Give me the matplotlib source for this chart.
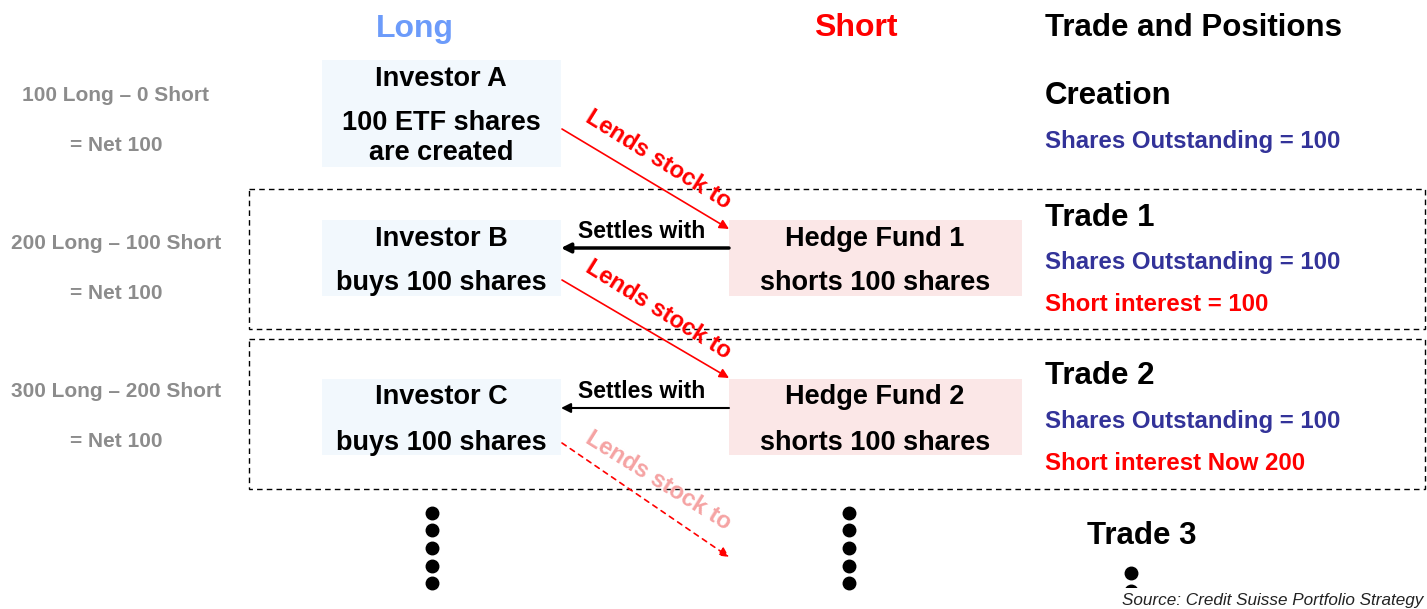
import matplotlib
matplotlib.use("Agg")
import matplotlib.pyplot as plt
from matplotlib.patches import Rectangle, FancyArrowPatch

plt.rcParams['font.family'] = ['Liberation Sans', 'DejaVu Sans']

# ---- content ----
headers = ["Long", "Short", "Trade and Positions"]
left_positions = ["100 Long – 0 Short", "200 Long – 100 Short", "300 Long – 200 Short"]
left_net = ["= Net 100", "= Net 100", "= Net 100"]
investor_titles = ["Investor A", "Investor B", "Investor C"]
investor_subs = [["100 ETF shares", "are created"], ["buys 100 shares"], ["buys 100 shares"]]
fund_titles = ["Hedge Fund 1", "Hedge Fund 2"]
fund_subs = ["shorts 100 shares", "shorts 100 shares"]
trade_titles = ["Creation", "Trade 1", "Trade 2", "Trade 3"]
shares_outstanding = ["Shares Outstanding = 100", "Shares Outstanding = 100", "Shares Outstanding = 100"]
short_interest = ["Short interest = 100", "Short interest Now 200"]
lend_label = "Lends stock to"
settle_label = "Settles with"
source = "Source: Credit Suisse Portfolio Strategy"

W, H = 1427, 609
fig = plt.figure(figsize=(W / 100, H / 100), dpi=100)
ax = fig.add_axes([0, 0, 1, 1])
ax.set_xlim(0, W)
ax.set_ylim(H, 0)
ax.axis('off')

BLUE_BOX = '#F2F8FD'
PINK_BOX = '#FBE7E7'
NAVY = '#333399'
GREY = '#8C8C8C'
DY = 2.5  # vertical text offset


def txt(x, y, s, **kw):
    kw.setdefault('fontweight', 'bold')
    kw.setdefault('va', 'center')
    return ax.text(x, y + DY, s, **kw)


# headers
txt(415, 26, headers[0], color='#6C9BFA', fontsize=23, ha='center')
txt(856, 26, headers[1], color='#FF0000', fontsize=23, ha='center')
txt(1045, 26, headers[2], color='black', fontsize=22.5, ha='left')

# left grey texts
row_y = [93, 241, 389]
for y, t1, t2 in zip(row_y, left_positions, left_net):
    txt(116, y, t1, color=GREY, fontsize=15, ha='center')
    txt(116, y + 50, t2, color=GREY, fontsize=15, ha='center')

# dashed frames
for (y0, y1) in [(189, 329), (339, 489)]:
    ax.add_patch(Rectangle((249, y0), 1425 - 249, y1 - y0, fill=False, ec='black',
                           lw=1.0, ls=(0, (4, 3))))

# investor boxes
inv_boxes = [(60, 167), (220, 296), (379, 455)]
inv_sub_y = [[121, 151], [281], [440]]
for (y0, y1), t, subs, ys in zip(inv_boxes, investor_titles, investor_subs, inv_sub_y):
    ax.add_patch(Rectangle((322, y0), 561 - 322, y1 - y0, fc=BLUE_BOX, ec='none'))
    txt(441, y0 + 16, t, fontsize=19.5, ha='center')
    for y, s in zip(ys, subs):
        txt(441, y, s, fontsize=19.5, ha='center')

# hedge fund boxes
fund_boxes = [(220, 296), (379, 455)]
for (y0, y1), t, s in zip(fund_boxes, fund_titles, fund_subs):
    ax.add_patch(Rectangle((729, y0), 1022 - 729, y1 - y0, fc=PINK_BOX, ec='none'))
    txt(875, y0 + 16, t, fontsize=19.5, ha='center')
    txt(875, y0 + 61, s, fontsize=19.5, ha='center')

# Lends stock arrows
lend_arrows = [((562, 129), (729, 229), '#FF0000', '-', 1.2, '#FF0000'),
               ((562, 280), (729, 378), '#FF0000', '-', 1.2, '#FF0000'),
               ((562, 443), (729, 557), '#FF0000', (0, (3, 3)), 1.2, '#F5A3A3')]
for (p0, p1, c, ls, lw, tc) in lend_arrows:
    ax.add_patch(FancyArrowPatch(p0, p1, arrowstyle='-|>', mutation_scale=14, color=c,
                                 lw=lw, linestyle=ls, shrinkA=0, shrinkB=0))
    cx = (p0[0] + p1[0]) / 2 + 13
    cy = (p0[1] + p1[1]) / 2 - 19
    ax.text(cx, cy, lend_label, color=tc, fontsize=17, fontweight='bold', ha='center', va='center',
            rotation=-32.0, rotation_mode='anchor')

# Settles with arrows
settle = [(248, 2.5), (408, 1.5)]
for y, lw in settle:
    ax.add_patch(FancyArrowPatch((729, y), (561, y), arrowstyle='-|>', mutation_scale=14,
                                 color='black', lw=lw, shrinkA=0, shrinkB=0))
    txt(642, y - 19, settle_label, fontsize=16.5, ha='center')

# right column
txt(1045, 94, trade_titles[0], fontsize=22.5, ha='left')
txt(1045, 215, trade_titles[1], fontsize=22.5, ha='left')
txt(1045, 374, trade_titles[2], fontsize=22.5, ha='left')
txt(1087, 533, trade_titles[3], fontsize=22.5, ha='left')
for y, t in zip([139, 260, 419], shares_outstanding):
    txt(1045, y, t, color=NAVY, fontsize=17.3, ha='left')
for y, t in zip([302, 461], short_interest):
    txt(1045, y, t, color='#FF0000', fontsize=17.3, ha='left')

# continuation dots
dot_y = [513, 530, 548, 566, 583]
for x in [432, 849]:
    ax.plot([x] * len(dot_y), dot_y, 'o', color='black', ms=9, ls='none')
ax.plot([1131, 1131], [573, 591], 'o', color='black', ms=9, ls='none')
ax.add_patch(Rectangle((1110, 588), 60, 21, fc='white', ec='none', zorder=5))

# source
ax.text(1423, 601, source, fontsize=12.3, style='italic', ha='right', va='center', color='#222222',
        zorder=6)

fig.savefig('out.png', dpi=100)
